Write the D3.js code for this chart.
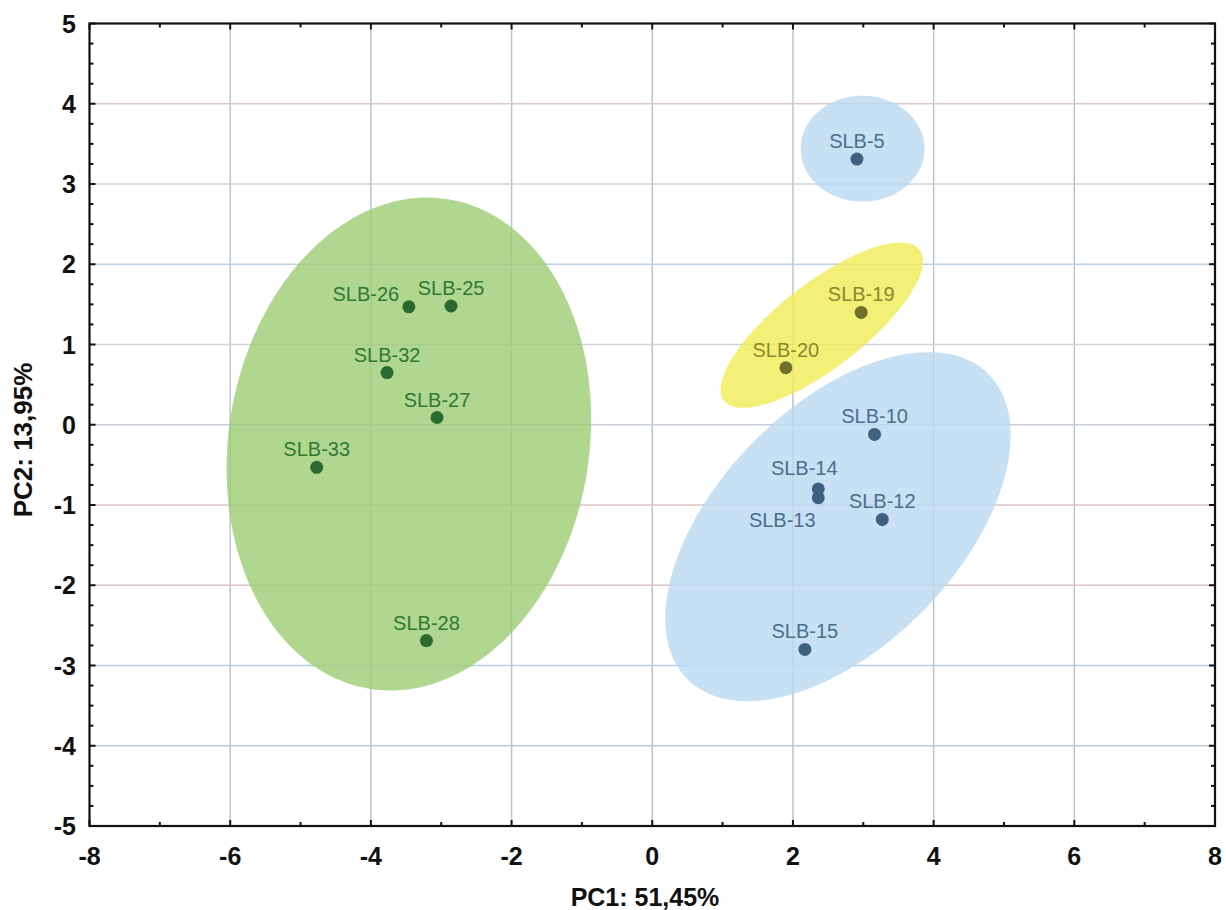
<!DOCTYPE html>
<html>
<head>
<meta charset="utf-8">
<script src="https://cdn.jsdelivr.net/npm/d3@7"></script>
<style>
  html, body { margin: 0; padding: 0; background: #ffffff; }
  svg { display: block; }
  text { font-family: "Liberation Sans", Arial, sans-serif; }
</style>
</head>
<body>
<svg id="chart" width="1226" height="910"></svg>
<script>
// PCA score plot: samples on PC1 / PC2 with group confidence ellipses

const sampleNames = ["SLB-5", "SLB-19", "SLB-20", "SLB-10", "SLB-14", "SLB-13", "SLB-12", "SLB-15",
                     "SLB-26", "SLB-25", "SLB-32", "SLB-27", "SLB-33", "SLB-28"];
const pc1Scores = [2.91, 2.97, 1.90, 3.16, 2.36, 2.36, 3.27, 2.17,
                   -3.46, -2.86, -3.77, -3.06, -4.77, -3.21];
const pc2Scores = [3.31, 1.40, 0.71, -0.12, -0.80, -0.91, -1.18, -2.80,
                   1.47, 1.48, 0.65, 0.09, -0.53, -2.69];
const sampleGroups = ["blue", "yellow", "yellow", "blue", "blue", "blue", "blue", "blue",
                      "green", "green", "green", "green", "green", "green"];

// Ellipses: centre plus two conjugate semi-axis vectors, all in PC units
const ellipseGroups = ["green", "blue", "blue", "yellow"];
const ellipseCx = [-3.46, 2.99, 2.64, 2.41];
const ellipseCy = [-0.24, 3.44, -1.27, 1.24];
const ellipseU = [[0.56, 3.05], [0.88, 0.00], [2.13, 1.91], [1.39, 0.94]];
const ellipseV = [[2.53, -0.36], [0.00, 0.66], [1.22, -1.04], [0.37, -0.42]];

const xTicks = [-8, -6, -4, -2, 0, 2, 4, 6, 8];
const yTicks = [-5, -4, -3, -2, -1, 0, 1, 2, 3, 4, 5];
const xTitle = "PC1: 51,45%";
const yTitle = "PC2: 13,95%";

// styling
const groupStyle = {
  green:  { fill: "#9ccc74", dot: "#2a6a2e", label: "#2f7a33" },
  blue:   { fill: "#b9d8f0", dot: "#3f607f", label: "#4a6f8e" },
  yellow: { fill: "#f0ec56", dot: "#70702e", label: "#8b882c" }
};
const hGridColor = { "4": "#dcc7c7", "3": "#cfd3d8", "2": "#bcd3e6", "1": "#cfd3da", "0": "#c7cfdb",
                     "-1": "#dcc4c4", "-2": "#dcc4c4", "-3": "#b8cfe3", "-4": "#bccbd8" };
const labelOffset = {
  "SLB-26": [-43, -6], "SLB-14": [-14, -14], "SLB-13": [-36, 29]
};

const svg = d3.select("#chart");
const plotLeft = 89.5, plotRight = 1215, plotTop = 23.5, plotBottom = 826;
const x = d3.scaleLinear().domain([-8, 8]).range([plotLeft, plotRight]);
const y = d3.scaleLinear().domain([-5, 5]).range([plotBottom, plotTop]);

// grid
const grid = svg.append("g");
grid.selectAll("line.v").data(d3.range(-6, 7, 2)).join("line")
  .attr("x1", d => x(d)).attr("x2", d => x(d)).attr("y1", plotTop).attr("y2", plotBottom)
  .attr("stroke", "#bac4cd").attr("stroke-width", 1.5);
grid.selectAll("line.h").data(d3.range(-4, 5, 1)).join("line")
  .attr("y1", d => y(d)).attr("y2", d => y(d)).attr("x1", plotLeft).attr("x2", plotRight)
  .attr("stroke", d => hGridColor[String(d)]).attr("stroke-width", 1.5);

// ellipses
const ellipseLine = d3.line().curve(d3.curveLinearClosed);
const steps = d3.range(0, 180).map(i => i / 180 * 2 * Math.PI);
svg.append("g").selectAll("path").data(ellipseGroups.map((g, i) => ({ g, i }))).join("path")
  .attr("d", ({ i }) => ellipseLine(steps.map(t => [
    x(ellipseCx[i] + Math.cos(t) * ellipseU[i][0] + Math.sin(t) * ellipseV[i][0]),
    y(ellipseCy[i] + Math.cos(t) * ellipseU[i][1] + Math.sin(t) * ellipseV[i][1])
  ])))
  .attr("fill", ({ g }) => groupStyle[g].fill)
  .attr("fill-opacity", 0.8);

// points
const samples = sampleNames.map((name, i) => ({ name, pc1: pc1Scores[i], pc2: pc2Scores[i], group: sampleGroups[i] }));
svg.append("g").selectAll("circle").data(samples).join("circle")
  .attr("cx", d => x(d.pc1)).attr("cy", d => y(d.pc2)).attr("r", 6.5)
  .attr("fill", d => groupStyle[d.group].dot);

svg.append("g").selectAll("text").data(samples).join("text")
  .attr("x", d => x(d.pc1) + (labelOffset[d.name] ? labelOffset[d.name][0] : 0))
  .attr("y", d => y(d.pc2) + (labelOffset[d.name] ? labelOffset[d.name][1] : -11))
  .attr("text-anchor", "middle")
  .attr("font-size", 20)
  .attr("fill", d => groupStyle[d.group].label)
  .text(d => d.name);

// frame and ticks
const frame = svg.append("g");
frame.append("rect").attr("x", plotLeft).attr("y", plotTop)
  .attr("width", plotRight - plotLeft).attr("height", plotBottom - plotTop)
  .attr("fill", "none").attr("stroke", "#111").attr("stroke-width", 2.2);

const xMinor = d3.range(-7, 8, 2);
const yMinor = d3.range(-5, 5.001, 0.25).filter(v => Math.abs(v - Math.round(v)) > 1e-6);
const tickG = frame.append("g").attr("stroke", "#111").attr("stroke-width", 2);
xTicks.concat(xMinor).forEach(v => {
  const len = xMinor.includes(v) ? 4 : 6;
  tickG.append("line").attr("x1", x(v)).attr("x2", x(v)).attr("y1", plotBottom).attr("y2", plotBottom - len);
  tickG.append("line").attr("x1", x(v)).attr("x2", x(v)).attr("y1", plotTop).attr("y2", plotTop + len);
});
yTicks.concat(yMinor).forEach(v => {
  const len = Number.isInteger(v) ? 6 : 4;
  tickG.append("line").attr("y1", y(v)).attr("y2", y(v)).attr("x1", plotLeft).attr("x2", plotLeft + len);
  tickG.append("line").attr("y1", y(v)).attr("y2", y(v)).attr("x1", plotRight).attr("x2", plotRight - len);
});

// tick labels
svg.append("g").selectAll("text").data(xTicks).join("text")
  .attr("x", d => x(d)).attr("y", 865)
  .attr("text-anchor", "middle").attr("font-size", 25).attr("font-weight", "bold").attr("fill", "#111")
  .text(d => d);
svg.append("g").selectAll("text").data(yTicks).join("text")
  .attr("x", 76).attr("y", d => y(d)).attr("dy", "0.36em")
  .attr("text-anchor", "end").attr("font-size", 25).attr("font-weight", "bold").attr("fill", "#111")
  .text(d => d);

// axis titles
svg.append("text").attr("x", 645).attr("y", 906)
  .attr("text-anchor", "middle").attr("font-size", 25).attr("font-weight", "bold").attr("fill", "#111")
  .text(xTitle);
svg.append("text").attr("transform", "translate(32, 440) rotate(-90)")
  .attr("text-anchor", "middle").attr("font-size", 26).attr("font-weight", "bold").attr("fill", "#111")
  .text(yTitle);
</script>
</body>
</html>
